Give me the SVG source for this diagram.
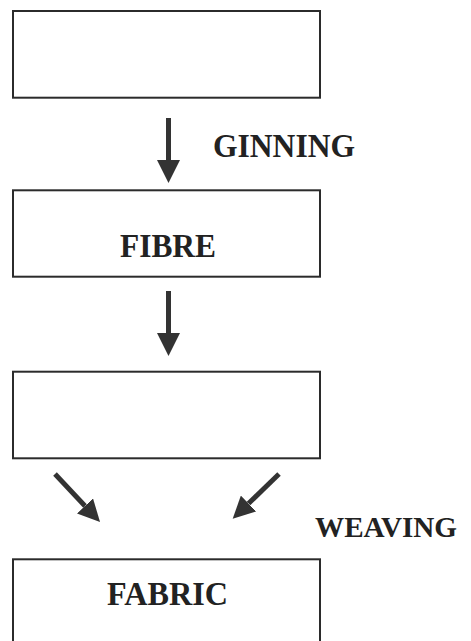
<svg xmlns="http://www.w3.org/2000/svg" width="471" height="641" viewBox="0 0 471 641">
  <style>
    .box { fill: #ffffff; stroke: #2b2b2b; stroke-width: 2; }
    .lbl { font-family: "Liberation Serif", "Times New Roman", serif; font-weight: bold; font-size: 33px; fill: #222222; }
    .conn { stroke: #333333; stroke-width: 5; fill: none; }
  </style>
  <defs>
    <marker id="head" markerUnits="userSpaceOnUse" viewBox="0 0 23 23" markerWidth="23" markerHeight="23" refX="0" refY="11.5" orient="auto">
      <path d="M0,0 L23,11.5 L0,23 Z" fill="#333333"/>
    </marker>
    <marker id="headS" markerUnits="userSpaceOnUse" viewBox="0 0 22 22" markerWidth="22" markerHeight="22" refX="0" refY="11" orient="auto">
      <path d="M0,0 L22,11 L0,22 Z" fill="#333333"/>
    </marker>
  </defs>
  <rect width="471" height="641" fill="#ffffff"/>

  <g id="node-raw">
    <rect class="box" x="13" y="11" width="307" height="86.7"/>
  </g>
  <g id="node-fibre">
    <rect class="box" x="13" y="190.3" width="307" height="86.4"/>
    <text class="lbl" x="120" y="256.7" textLength="96" lengthAdjust="spacingAndGlyphs">FIBRE</text>
  </g>
  <g id="node-yarn">
    <rect class="box" x="13" y="371.7" width="307" height="86.6"/>
  </g>
  <g id="node-fabric">
    <rect class="box" x="13" y="559.3" width="307" height="120"/>
    <text class="lbl" x="107" y="605" textLength="121" lengthAdjust="spacingAndGlyphs">FABRIC</text>
  </g>

  <g id="connectors">
    <line class="conn" x1="168.5" y1="118" x2="168.5" y2="160" marker-end="url(#head)"/>
    <line class="conn" x1="168.5" y1="291" x2="168.5" y2="333" marker-end="url(#head)"/>
    <line class="conn" x1="55" y1="474" x2="85" y2="506" marker-end="url(#headS)"/>
    <line class="conn" x1="279" y1="474" x2="248.5" y2="503.5" marker-end="url(#headS)"/>
    <text class="lbl" x="213" y="157" textLength="142" lengthAdjust="spacingAndGlyphs">GINNING</text>
    <text class="lbl" x="315" y="536.7" style="font-size:30px" textLength="142" lengthAdjust="spacingAndGlyphs">WEAVING</text>
  </g>
</svg>
